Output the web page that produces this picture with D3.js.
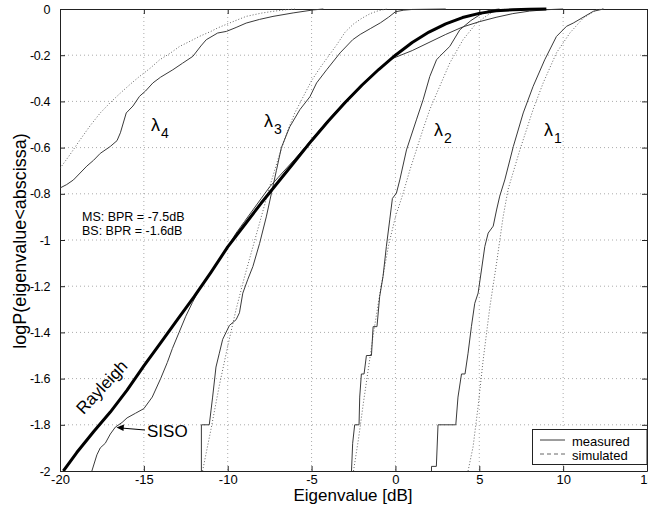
<!DOCTYPE html>
<html><head><meta charset="utf-8">
<script src="https://cdn.jsdelivr.net/npm/d3@7"></script>
<style>
html,body{margin:0;padding:0;background:#fff;}
svg{display:block;font-family:Arial,"Liberation Sans",sans-serif;}
</style></head>
<body>
<svg id="c" width="648" height="515"></svg>
<script>
// ---- data ----
const xTicks = [-20,-15,-10,-5,0,5,10,15];
const xTickLabels = ["-20","-15","-10","-5","0","5","10","15"];
const yTicks = [0,-0.2,-0.4,-0.6,-0.8,-1,-1.2,-1.4,-1.6,-1.8,-2];
const yTickLabels = ["0","-0.2","-0.4","-0.6","-0.8","-1","-1.2","-1.4","-1.6","-1.8","-2"];

const rayleighX = [-19.8,-19,-18,-17,-16,-15,-14,-13,-12,-11,-10,-9,-8,-7,-6,-5,-4,-3,-2,-1,0,1,2,3,4,5,6,7,8,9];
const rayleighY = [-2.00,-1.92,-1.83,-1.745,-1.65,-1.545,-1.445,-1.345,-1.245,-1.14,-1.03,-0.935,-0.84,-0.75,-0.66,-0.57,-0.485,-0.405,-0.33,-0.262,-0.20,-0.145,-0.10,-0.064,-0.037,-0.019,-0.008,-0.003,-0.001,0];

const sisoX = [-18.1,-17.8,-17.6,-17.3,-17.0,-16.7,-16.3,-16.0,-15.5,-15.0,-14.5,-14.0,-13.6,-13.3,-12.9,-12.5,-12.1,-11.7,-11.2,-10.7,-10.3,-10.0,-9.5,-9.0,-8.5,-8.0,-7.5,-7.0,-6,-5,-4,-3,-2,-1,-0.2,1,2,3,4,5,6,7,8,9,10];
const sisoY = [-2.0,-1.93,-1.90,-1.88,-1.84,-1.81,-1.79,-1.77,-1.75,-1.73,-1.68,-1.60,-1.53,-1.47,-1.40,-1.33,-1.27,-1.215,-1.16,-1.11,-1.06,-1.03,-0.97,-0.92,-0.87,-0.82,-0.77,-0.73,-0.65,-0.565,-0.48,-0.40,-0.325,-0.262,-0.215,-0.18,-0.145,-0.11,-0.078,-0.055,-0.036,-0.02,-0.009,-0.003,0];

const l1MeasX = [2.15,2.15,2.44,2.54,3.6,3.73,3.94,4.15,4.33,4.53,4.73,4.93,5.13,5.33,5.53,5.83,6.03,6.22,6.52,7.03,7.62,8.21,8.9,9.6,10.2,10.6,11.8,12.4];
const l1MeasY = [-2.0,-1.98,-1.98,-1.80,-1.80,-1.68,-1.58,-1.58,-1.49,-1.375,-1.274,-1.23,-1.13,-1.028,-0.97,-0.94,-0.87,-0.81,-0.74,-0.595,-0.45,-0.335,-0.22,-0.119,-0.075,-0.061,-0.01,0];
const l1SimX = [4.33,4.63,4.93,5.23,5.63,6.03,6.42,6.72,7.42,8.21,8.81,9.6,10.4,11.2,12.0,12.4];
const l1SimY = [-2.0,-1.895,-1.72,-1.52,-1.29,-1.10,-0.90,-0.78,-0.61,-0.435,-0.32,-0.19,-0.104,-0.039,-0.003,0];

const l2MeasX = [-2.62,-2.55,-2.43,-2.17,-2.13,-2.03,-1.87,-1.73,-1.43,-1.33,-1.1,-0.94,-0.74,-0.54,-0.34,-0.18,0.06,0.26,0.66,1.25,1.65,2.05,2.45,2.64,3.24,3.84,4.5,5.03,5.63,6.2];
const l2MeasY = [-2.0,-1.88,-1.80,-1.80,-1.68,-1.58,-1.58,-1.50,-1.50,-1.375,-1.375,-1.245,-1.158,-1.028,-0.913,-0.82,-0.797,-0.74,-0.61,-0.48,-0.393,-0.292,-0.22,-0.205,-0.162,-0.09,-0.05,-0.025,-0.005,0];
const l2SimX = [-2.5,-2.2,-1.9,-1.6,-1.3,-0.9,-0.4,0.0,0.45,0.85,1.25,1.65,2.05,2.64,3.24,4.03,4.83,5.82,6.5];
const l2SimY = [-2.0,-1.86,-1.70,-1.55,-1.40,-1.22,-1.02,-0.90,-0.80,-0.70,-0.61,-0.52,-0.435,-0.335,-0.234,-0.133,-0.061,-0.01,0];

const l3MeasX = [-11.57,-11.57,-11.1,-11.0,-10.9,-10.7,-10.5,-10.3,-9.9,-9.5,-9.3,-9.1,-8.8,-8.5,-8.1,-7.7,-7.4,-7.1,-6.8,-6.3,-5.7,-5.1,-4.7,-4.1,-3.3,-2.55,-2.1,-1.5,-0.9,-0.4,0,0.5,1,3];
const l3MeasY = [-2.0,-1.80,-1.80,-1.74,-1.68,-1.55,-1.49,-1.43,-1.37,-1.345,-1.315,-1.23,-1.17,-1.115,-1.015,-0.90,-0.80,-0.70,-0.60,-0.51,-0.436,-0.38,-0.32,-0.263,-0.19,-0.133,-0.11,-0.085,-0.06,-0.035,-0.012,-0.005,-0.002,0];
const l3SimX = [-11.5,-11,-10.5,-10,-9.5,-9,-8.5,-8,-7.5,-7,-6.5,-6,-5.5,-5,-4.5,-4,-3.5,-3,-2.5,-2,-1.5,-1,-0.5];
const l3SimY = [-2.0,-1.82,-1.63,-1.46,-1.30,-1.16,-1.03,-0.90,-0.77,-0.65,-0.54,-0.45,-0.38,-0.31,-0.255,-0.205,-0.155,-0.10,-0.065,-0.04,-0.02,-0.007,0];

const l4MeasX = [-20,-19.6,-19.2,-18.8,-18.4,-18.0,-17.6,-17.0,-16.6,-16.4,-16.05,-15.65,-15.26,-14.9,-14.46,-14.0,-13.27,-12.7,-12.08,-11.6,-11.28,-10.6,-10.08,-9.5,-8.9,-8.1,-7.3,-6.1,-4.9,-4.3];
const l4MeasY = [-0.775,-0.76,-0.74,-0.71,-0.68,-0.655,-0.625,-0.595,-0.57,-0.536,-0.45,-0.42,-0.378,-0.355,-0.32,-0.295,-0.263,-0.235,-0.205,-0.16,-0.133,-0.104,-0.097,-0.08,-0.061,-0.045,-0.032,-0.017,-0.004,0];
const l4SimX = [-20,-19.4,-18.8,-18.2,-17.6,-17.0,-16.4,-15.8,-15.26,-14.6,-14.06,-13.4,-12.87,-12.2,-11.7,-11.0,-10.6,-9.8,-8.9,-8.0,-7.3,-6.5,-6.0];
const l4SimY = [-0.69,-0.63,-0.566,-0.505,-0.45,-0.405,-0.364,-0.325,-0.292,-0.255,-0.22,-0.19,-0.162,-0.138,-0.119,-0.097,-0.082,-0.058,-0.032,-0.018,-0.01,-0.003,0];

const legendLabels = ["measured","simulated"];

// ---- drawing ----
const svg = d3.select("#c");
const L = 60, R = 647, T = 9, B = 471;
const x = d3.scaleLinear().domain([-20,15]).range([L,R]);
const y = d3.scaleLinear().domain([-2,0]).range([B,T]);
const font = 'Arial,"Liberation Sans",sans-serif';

svg.append("defs").append("clipPath").attr("id","clip")
  .append("rect").attr("x",L).attr("y",T-2).attr("width",R-L).attr("height",B-T+2);

// grid
const grid = svg.append("g").attr("stroke","#000").attr("stroke-width",0.6)
  .attr("stroke-dasharray","1,3").attr("opacity",0.55);
xTicks.slice(1,-1).forEach(t=>grid.append("line").attr("x1",x(t)).attr("x2",x(t)).attr("y1",T).attr("y2",B));
yTicks.slice(1,-1).forEach(t=>grid.append("line").attr("x1",L).attr("x2",R).attr("y1",y(t)).attr("y2",y(t)));

// axes
const fmtX = (d,i)=>xTickLabels[i];
const fmtY = (d,i)=>yTickLabels[i];
const gB = svg.append("g").attr("transform",`translate(0,${B})`)
  .call(d3.axisBottom(x).tickValues(xTicks).tickFormat(fmtX).tickSizeInner(-5).tickSizeOuter(0).tickPadding(4));
const gL = svg.append("g").attr("transform",`translate(${L},0)`)
  .call(d3.axisLeft(y).tickValues(yTicks).tickFormat(fmtY).tickSizeInner(-5).tickSizeOuter(0).tickPadding(10));
const gT = svg.append("g").attr("transform",`translate(0,${T})`)
  .call(d3.axisTop(x).tickValues(xTicks).tickFormat("").tickSizeInner(-5).tickSizeOuter(0));
const gR = svg.append("g").attr("transform",`translate(${R},0)`)
  .call(d3.axisRight(y).tickValues(yTicks).tickFormat("").tickSizeInner(-5).tickSizeOuter(0));
[gB,gL,gT,gR].forEach(g=>{
  g.selectAll("path,line").attr("stroke","#222").attr("stroke-width",1);
  g.selectAll("text").attr("font-family",font).attr("font-size",13).attr("fill","#000");
});
gL.selectAll("text").attr("font-size",12.5).attr("letter-spacing","-0.4px");

// curves
const line = d3.line().x(d=>x(d[0])).y(d=>y(d[1]));
const plot = svg.append("g").attr("clip-path","url(#clip)");
function draw(xs, ys, kind){
  const pts = xs.map((v,i)=>[v,ys[i]]);
  const p = plot.append("path").datum(pts).attr("d",line).attr("fill","none");
  if(kind==="meas") p.attr("stroke","#3a3a3a").attr("stroke-width",1);
  else if(kind==="sim") p.attr("stroke","#666").attr("stroke-width",1).attr("stroke-dasharray","1,2");
  else p.attr("stroke","#000").attr("stroke-width",3).attr("stroke-linejoin","round");
}
draw(l4SimX,l4SimY,"sim");
draw(l3SimX,l3SimY,"sim");
draw(l2SimX,l2SimY,"sim");
draw(l1SimX,l1SimY,"sim");
draw(l4MeasX,l4MeasY,"meas");
draw(l3MeasX,l3MeasY,"meas");
draw(l2MeasX,l2MeasY,"meas");
draw(l1MeasX,l1MeasY,"meas");
draw(sisoX,sisoY,"meas");
draw(rayleighX,rayleighY,"ray");

// lambda labels
const lam = [["4",151,131],["3",264,127],["2",434,136],["1",544,136]];
lam.forEach(([s,lx,ly])=>{
  svg.append("text").attr("x",lx).attr("y",ly).attr("font-family",font).attr("font-size",18).text("λ");
  svg.append("text").attr("x",lx+10).attr("y",ly+7).attr("font-family",font).attr("font-size",14).text(s);
});

// annotations
svg.append("text").attr("x",82).attr("y",221).attr("font-family",font).attr("font-size",12.5).text("MS: BPR = -7.5dB");
svg.append("text").attr("x",82).attr("y",235).attr("font-family",font).attr("font-size",12.5).text("BS: BPR = -1.6dB");
svg.append("text").attr("transform","translate(106,391) rotate(-47)").attr("text-anchor","middle")
  .attr("font-family",font).attr("font-size",17).text("Rayleigh");
svg.append("text").attr("x",147).attr("y",437).attr("font-family",font).attr("font-size",17).text("SISO");
svg.append("line").attr("x1",145).attr("y1",430).attr("x2",121).attr("y2",428).attr("stroke","#000").attr("stroke-width",1);
svg.append("path").attr("d","M116.5,427.5 L124,424.5 L123.5,431 Z").attr("fill","#000");

// axis titles
svg.append("text").attr("x",353).attr("y",501).attr("text-anchor","middle").attr("font-family",font).attr("font-size",17).text("Eigenvalue [dB]");
svg.append("text").attr("transform","translate(26,241) rotate(-90)").attr("text-anchor","middle").attr("font-family",font).attr("font-size",18).text("logP(eigenvalue<abscissa)");

// legend
const lg = svg.append("g");
lg.append("rect").attr("x",532.5).attr("y",429.5).attr("width",R-532.5).attr("height",35).attr("fill","#fff").attr("stroke","#222");
lg.append("line").attr("x1",540).attr("x2",565).attr("y1",440).attr("y2",440).attr("stroke","#3a3a3a");
lg.append("line").attr("x1",540).attr("x2",565).attr("y1",454).attr("y2",454).attr("stroke","#666").attr("stroke-dasharray","4,3");
lg.selectAll("text.l").data(legendLabels).enter().append("text").attr("class","l")
  .attr("x",572).attr("y",(d,i)=>446+i*14).attr("font-family",font).attr("font-size",13).text(d=>d);
</script>
</body></html>
